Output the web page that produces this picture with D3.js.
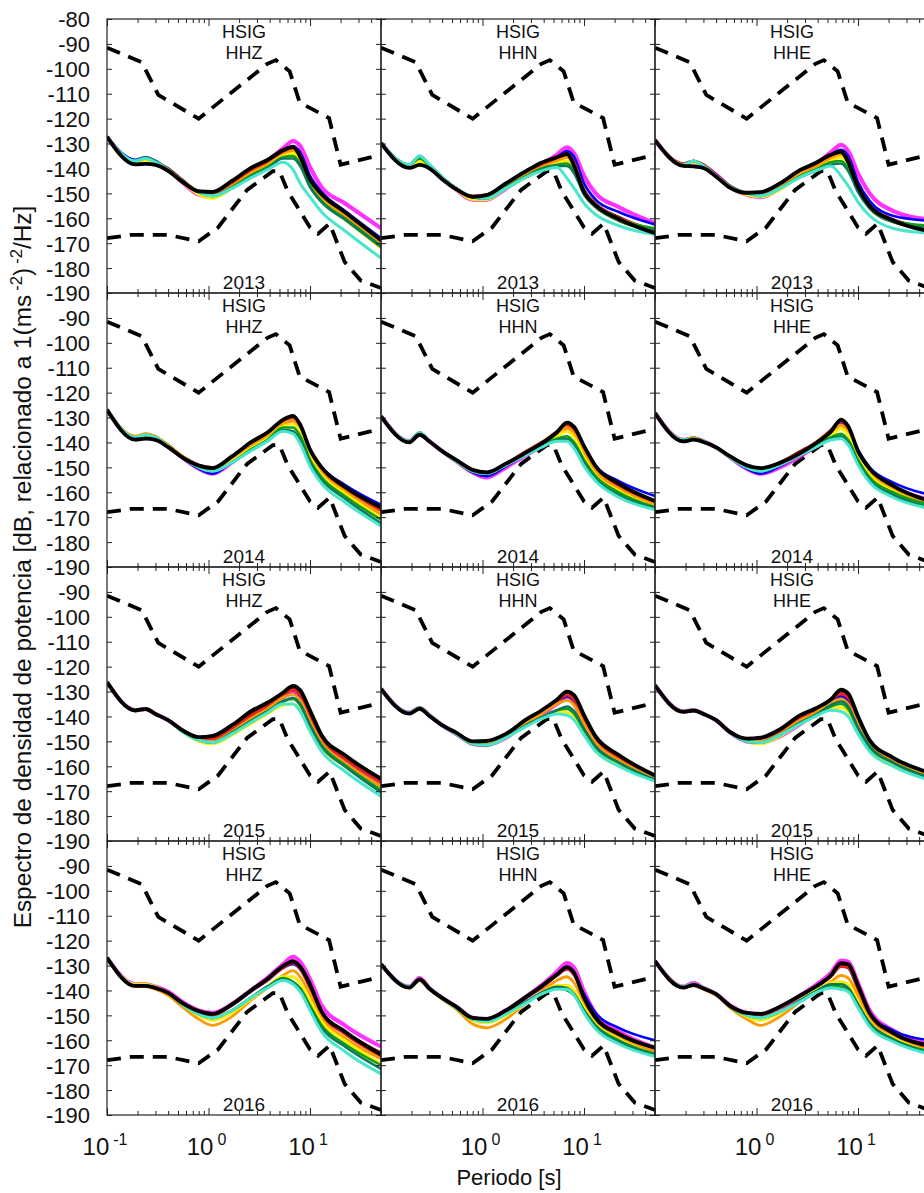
<!DOCTYPE html>
<html><head><meta charset="utf-8">
<script src="https://cdn.jsdelivr.net/npm/d3@7"></script>
<style>
body{margin:0;background:#fff}
svg{display:block}
text{font-family:"Liberation Sans",Arial,Helvetica,sans-serif;fill:#111}
</style></head>
<body><svg id="c" width="924" height="1193"></svg>
<script>
// ---------------- DATA ----------------
const station = "HSIG";
const channels = ["HHZ","HHN","HHE"];
const years = ["2013","2014","2015","2016"];
const periods = [0.1,0.19,0.24,0.3,0.4,0.55,0.8,1.1,1.7,2.7,3.8,5.4,6.8,8,10,13,22,50];
const seriesNames  = ["magenta","blue","darkred","red","orange","yellow","green","teal","turquoise","black"];
const seriesColors = ["#ff00ff","#0000ff","#9a1010","#e8201a","#ff9900","#ffee00","#10a010","#0a7a5a","#48e6cc","#000000"];
const seriesWidths = [4.2,2.6,2.6,2.6,2.8,2.8,2.6,2.6,3.0,3.8];

const nhnmPeriods = [0.1,0.22,0.32,0.8,3.8,4.6,6.3,7.9,15.4,20,50];
const nhnmValues  = [-91.5,-97.4,-110.5,-120,-98,-96.5,-101,-113.5,-119.8,-138.5,-134.5];
const nlnmPeriods = [0.1,0.17,0.4,0.8,1.24,2.4,4.3,5,6,10,12,15.6,21.9,31.6,50];
const nlnmValues  = [-168,-166.7,-166.7,-169.2,-163.7,-148.6,-141.1,-141.1,-149,-163.7,-166.2,-162.1,-177.5,-185,-188];

const yTicks = [-80,-90,-100,-110,-120,-130,-140,-150,-160,-170,-180,-190];
const xMajorTicks = [0.1,1,10];
const xMinorTicks = [0.2,0.3,0.4,0.5,0.6,0.7,0.8,0.9,2,3,4,5,6,7,8,9,20,30,40];
const xTickExponents = ["-1","0","1"];

// each panel: series in order of seriesNames
const psdHHZ2013 = [
 [-127.3,-137.5,-137,-138,-140.5,-145.5,-150.5,-151.5,-146.5,-141,-137,-132,-129,-131,-139.5,-147.5,-154,-164],
 [-127.3,-136.5,-135.5,-137,-140.5,-145,-149.5,-150.5,-146,-140.5,-137.5,-133,-131,-133.5,-143,-149.5,-157,-168],
 [-127.3,-137.5,-136.5,-137.5,-140,-144.5,-149,-149.5,-145.5,-140,-137,-133,-131.5,-134.5,-144,-150.5,-158,-169.5],
 [-127.3,-137.5,-136.5,-137.5,-140.5,-145,-149.5,-150,-146,-140.5,-137.5,-133.5,-132,-135,-145,-151,-158.5,-170],
 [-127.3,-137.5,-137,-138,-141,-145.5,-150,-151,-147,-141.5,-138.5,-134.5,-133,-135.5,-145.5,-151.5,-159,-170.5],
 [-127.3,-137.5,-137,-138,-141,-145.5,-150.5,-152,-148,-142.5,-139.5,-135,-134,-137,-147,-153,-160.5,-172],
 [-127.3,-137,-136,-137.5,-140.5,-145,-149.5,-151,-147.5,-142.5,-139.5,-135.5,-135,-138,-147,-153,-160,-171],
 [-127.3,-137,-135.5,-137,-140.5,-145,-149.5,-151,-148,-143,-140,-136,-136,-139,-147.5,-153.5,-160.5,-171.5],
 [-127.3,-137,-136,-137.5,-140.5,-145,-149.5,-151,-148,-143.5,-140.5,-137.5,-140.5,-146,-151.5,-157.5,-165,-176],
 [-127.3,-138.4,-138.2,-138.6,-141,-145.3,-149.2,-149.4,-145,-139.5,-136.6,-132.7,-131.3,-135.3,-144.5,-150.3,-157.5,-168.7]
];
const psdHHN2013 = [
 [-129.8,-139,-136.5,-139.5,-144,-148.5,-152.5,-152.5,-148,-142.5,-138.5,-134.5,-131.5,-134,-143,-150,-155.5,-162],
 [-129.8,-138.5,-135,-138.5,-143.5,-148,-151.5,-151.5,-147,-142,-138.5,-135.5,-133,-135.5,-146,-152.5,-157.5,-162.5],
 [-129.8,-138.5,-136.5,-139,-143.5,-148,-151,-150.5,-146,-141,-138,-135.5,-134,-137.5,-148.5,-154,-159.5,-165],
 [-129.8,-138.5,-136.5,-139,-144,-148,-151.5,-151,-146.5,-141.5,-138.5,-136,-134.5,-138,-149,-154.5,-160,-164.5],
 [-129.8,-139,-137,-139.5,-144,-148.5,-152,-152,-147.5,-142.5,-139.5,-137,-135.5,-138.5,-149,-154.5,-160,-164.5],
 [-129.8,-139,-137,-139.5,-144,-148.5,-152.5,-152.5,-148,-143.5,-140.5,-138,-137,-140,-150,-155.5,-161,-165.5],
 [-129.8,-138.5,-136,-139,-143.5,-148,-151.5,-152,-147.5,-143,-140,-138.5,-138,-141,-150,-155,-160.5,-164],
 [-129.8,-138.5,-135,-138.5,-143.5,-148,-151.5,-152,-148,-143.5,-140.5,-139,-139,-142,-150.5,-155.5,-161,-165],
 [-129.8,-138.5,-135,-138.5,-143.5,-148,-151.5,-152,-148,-143.5,-141,-139.5,-144,-148,-154,-158.5,-163,-166.5],
 [-129.8,-139.8,-138.6,-140,-144.3,-148.3,-151.4,-150.7,-146,-141,-137.7,-135.5,-134.2,-139,-149.5,-154.8,-160.3,-166]
];
const psdHHE2013 = [
 [-128.6,-138.5,-137.5,-139,-142.5,-147.5,-150.5,-151.5,-148,-142,-138.5,-133.5,-130.5,-133,-142,-150,-157,-160.5],
 [-128.6,-138.5,-137,-139,-142.5,-147.5,-150,-150.5,-147,-141.5,-138.5,-134.5,-132.5,-135,-145.5,-153,-159,-161],
 [-128.6,-138,-137,-138.5,-142.5,-147,-149.5,-149.5,-146,-140.5,-138,-134.5,-133,-136.5,-147,-154.5,-160.5,-164],
 [-128.6,-138,-137,-138.5,-143,-147.5,-150,-150,-146.5,-141,-138.5,-135,-133.5,-137,-147.5,-155,-160.5,-163.5],
 [-128.6,-138.5,-137.5,-139,-143,-147.5,-150.5,-151,-147.5,-142,-139.5,-136,-134.5,-137.5,-148,-155.5,-161,-164],
 [-128.6,-138.5,-137.5,-139,-143,-147.5,-150.5,-151.5,-148.5,-143,-140.5,-137,-135.5,-138.5,-148.5,-156,-161.5,-164.5],
 [-128.6,-138.5,-137,-139,-143,-147.5,-150,-151,-148,-143,-140.5,-137.5,-137,-140,-149,-155.5,-161,-163],
 [-128.6,-138.5,-137,-139,-143,-147.5,-150,-151,-148,-143.5,-141,-138.5,-138,-141,-149.5,-156,-161.5,-164],
 [-128.6,-138.5,-137,-139,-143,-147.5,-150,-151,-148,-143.5,-141,-139,-143,-147,-153.5,-159,-164,-166],
 [-128.6,-139,-139.2,-139.8,-143.3,-147.8,-149.8,-149.5,-146,-140.6,-137.8,-134.5,-133.3,-137.5,-147.5,-155,-160.8,-165.2]
];
const psdHHZ2014 = [
 [-126.9,-138.5,-137.5,-138.5,-141.5,-146,-150.5,-152.5,-148,-141.5,-138,-133,-131,-134,-144,-151.5,-159.5,-169.5],
 [-126.9,-138.5,-137.5,-138.5,-141.5,-146,-150.5,-152.5,-147.5,-141,-137.5,-132.5,-130.5,-133.5,-143,-150,-157,-165],
 [-126.9,-138,-137,-138,-141,-145.5,-149,-150,-145.5,-139.5,-136,-131,-129.5,-133,-143,-150.5,-158,-166.5],
 [-126.9,-138,-137,-138,-141,-145.5,-149,-150.5,-146,-140,-136.5,-131.5,-130,-134,-144,-151,-158.5,-167.5],
 [-126.9,-137.5,-136.5,-137.5,-141,-145.5,-149.5,-151,-146.5,-141,-137.5,-132.5,-131,-134.5,-144.5,-152,-159.5,-168.5],
 [-126.9,-138,-137,-138,-141.5,-146,-150,-151.5,-147.5,-142,-138.5,-133.5,-132.5,-136,-146,-153,-160.5,-170],
 [-126.9,-138,-137,-138,-141.5,-146,-150,-151.5,-148,-142.5,-139,-134,-134,-137.5,-147,-154,-161.5,-171],
 [-126.9,-138,-137,-138,-141.5,-146,-150,-151.5,-148,-143,-139.5,-135,-135.5,-139,-148,-155,-162.5,-172.5],
 [-126.9,-138,-137,-138,-141.5,-146,-150,-151.5,-148,-143,-139.5,-135.5,-136.5,-140.5,-149.5,-156.5,-164,-173.5],
 [-126.9,-138.9,-138.5,-139,-141.9,-146,-149.3,-150.3,-145.6,-139.6,-136,-130.9,-129.3,-132.9,-142.9,-150,-157.8,-166]
];
const psdHHN2014 = [
 [-129.5,-139.5,-136.5,-139.5,-143.5,-147.5,-152,-154,-150,-145,-141.5,-137,-134,-136,-143,-150,-157.5,-165],
 [-129.5,-139.5,-136,-139.5,-143.5,-147.5,-152,-153.5,-149.5,-144.5,-141,-136.5,-133,-135,-142,-149.5,-155.5,-161.5],
 [-129.5,-139.5,-136.5,-139.5,-143.5,-147,-151,-152,-148.5,-143.5,-140,-135.5,-132.5,-134.5,-142,-150,-157,-164],
 [-129.5,-139.5,-136.5,-139.5,-143.5,-147,-151,-152,-148.5,-143.5,-140,-136,-133,-135,-142.5,-150.5,-157.5,-164.5],
 [-129.5,-139.5,-136.5,-139.5,-143.5,-147.5,-151.5,-152.5,-149,-144,-140.5,-136.5,-134,-136.5,-144,-151.5,-158.5,-165],
 [-129.5,-139.5,-136.5,-139.5,-143.5,-147.5,-151.5,-152.5,-149,-144.5,-141,-137.5,-135.5,-138,-146,-153,-159.5,-166],
 [-129.5,-139.5,-136,-139.5,-143.5,-147.5,-151.5,-152.5,-149,-144.5,-141.5,-138.5,-137.5,-140,-147,-153.5,-160,-166],
 [-129.5,-139.5,-136,-139.5,-143.5,-147.5,-151.5,-152.5,-149,-144.5,-141.5,-139,-138.5,-141,-148,-154.5,-161,-166.5],
 [-129.5,-139.5,-136,-139.5,-143.5,-147.5,-151.5,-152.5,-149,-145,-142,-139.5,-139.5,-142.5,-149.5,-155.5,-162,-167],
 [-129.5,-140,-136.9,-139.6,-143.5,-147,-151,-152,-148.5,-144,-140.5,-136,-132,-133.8,-141.5,-149.5,-156.5,-163.5]
];
const psdHHE2014 = [
 [-128.2,-139,-138.5,-139.5,-142,-146,-150.5,-152.5,-150,-145.5,-141.5,-136.5,-132.5,-135,-144.5,-151.5,-158,-163],
 [-128.2,-139,-138.5,-139.5,-142,-146,-150.5,-152.5,-149.5,-145,-141,-136,-132,-134.5,-143,-150,-156,-161],
 [-128.2,-139,-138,-139.5,-142,-145.5,-149,-150.5,-148,-143.5,-140,-135,-131,-134,-143.5,-151,-157.5,-163.5],
 [-128.2,-139,-138,-139.5,-142,-145.5,-149.5,-150.5,-148,-144,-140.5,-135.5,-131.5,-134.5,-144,-151.5,-158,-164],
 [-128.2,-139,-138,-139.5,-142,-146,-149.5,-151,-148.5,-144.5,-141,-136.5,-133,-136,-145,-152,-158.5,-164.5],
 [-128.2,-139,-138.5,-139.5,-142,-146,-150,-151.5,-149,-145,-141.5,-137.5,-134.5,-137,-146,-153,-159.5,-165.5],
 [-128.2,-139,-138.5,-139.5,-142,-146,-150,-151.5,-149,-145,-141.5,-138,-136.5,-139,-147,-154,-160,-165],
 [-128.2,-139,-138.5,-139.5,-142,-146,-150,-151.5,-149,-145,-142,-138.5,-137.5,-140,-148,-155,-161,-166],
 [-128.2,-139,-138.5,-139.5,-142,-146,-150,-151.5,-149,-145,-142,-139,-138.5,-141,-149,-156,-162,-166.5],
 [-128.2,-139.6,-138.9,-139.8,-142,-145.6,-149.2,-150.3,-148.2,-144.3,-140.5,-135.7,-130.8,-133.5,-143.5,-150.5,-157.3,-163.5]
];
const psdHHZ2015 = [
 [-126.2,-137.5,-137,-139,-141.5,-145.5,-149,-149.5,-147,-141.5,-137,-132.5,-130,-132,-140,-149,-157,-166.5],
 [-126.2,-137.5,-137,-139,-141.5,-145.5,-149,-149.5,-146,-140.5,-136.5,-132.5,-131,-133,-142,-150.5,-158.5,-168],
 [-126.2,-137.5,-137,-139,-141.5,-145.5,-148.5,-148.5,-144,-138.5,-135,-131,-128.5,-130.5,-138.5,-148,-156,-165.5],
 [-126.2,-137.5,-137,-139,-141.5,-145.5,-149,-149,-145,-139.5,-136,-131.5,-129.5,-131.5,-140,-149,-157,-166.5],
 [-126.2,-137.5,-137,-139,-141.5,-146,-149.5,-150,-146,-140.5,-137,-132.5,-131,-133.5,-142,-150.5,-158.5,-168],
 [-126.2,-137.5,-137,-139,-141.5,-146,-150,-151,-147.5,-142.5,-139,-135.5,-135,-137.5,-145,-152.5,-160,-169.5],
 [-126.2,-137.5,-137,-139,-141.5,-146,-149.5,-150.5,-146.5,-141.5,-138,-134,-133,-135.5,-143.5,-151.5,-159.5,-169.5],
 [-126.2,-137.5,-137,-139,-141.5,-146,-149.5,-150.5,-146.5,-141.5,-138,-134,-132.5,-135,-143.5,-152,-160,-170.5],
 [-126.2,-137.5,-137,-139,-141.5,-146,-149.5,-150.5,-147,-142,-138.5,-135,-135,-138,-146,-154,-162,-172],
 [-126.2,-137.6,-137,-139,-141.5,-145.5,-148.3,-147.8,-143.5,-137.6,-134.5,-130.5,-127.7,-129.5,-137.6,-147.5,-155.5,-165]
];
const psdHHN2015 = [
 [-128.9,-138.5,-136.5,-139.5,-143.5,-147,-151,-151.5,-148.5,-143,-139.5,-135,-133,-135,-143,-150.5,-157,-164.5],
 [-128.9,-138.5,-136.5,-139.5,-143.5,-147,-150.5,-151,-148,-142.5,-139,-134.5,-132,-134,-142.5,-150,-156.5,-164],
 [-128.9,-138.5,-136.5,-139.5,-143.5,-146.5,-150,-150,-147,-141.5,-138,-133.5,-130.5,-132.5,-140.5,-148.5,-156,-164],
 [-128.9,-138.5,-136.5,-139.5,-143.5,-146.5,-150.5,-150.5,-147.5,-142,-138.5,-134,-131.5,-133.5,-141.5,-149,-156.5,-164.5],
 [-128.9,-138.5,-136.5,-139.5,-143.5,-147,-151,-151,-148,-142.5,-139,-135,-133.5,-135.5,-143,-150.5,-157.5,-165],
 [-128.9,-138.5,-136.5,-139.5,-143.5,-147,-151,-151.5,-148.5,-143.5,-140.5,-138,-138.5,-140,-146.5,-153,-159,-165.5],
 [-128.9,-138.5,-136.5,-139.5,-143.5,-147,-151,-151.5,-148.5,-143.5,-140.5,-137.5,-137,-139,-145.5,-152.5,-158.5,-165.5],
 [-128.9,-138.5,-136.5,-139.5,-143.5,-147,-151,-151.5,-148.5,-143.5,-140.5,-137.5,-136,-138,-145,-152,-158.5,-165.5],
 [-128.9,-138.5,-136.5,-139.5,-143.5,-147,-151,-151.5,-148.5,-144,-141,-139,-139.5,-141.5,-147.5,-154,-160,-166],
 [-128.9,-138.9,-136.9,-139.8,-143.5,-146.5,-150,-149.8,-147,-141.2,-137.6,-133.3,-130,-131.5,-139.5,-148,-155.5,-163.7]
];
const psdHHE2015 = [
 [-127.5,-138,-137.5,-139,-141.5,-146.5,-150,-150.5,-148,-143,-139,-135,-132,-134,-142.5,-151,-157.5,-163.5],
 [-127.5,-138,-137.5,-139,-141.5,-146.5,-149.5,-150,-147,-142,-138.5,-134,-132,-134,-142.5,-151,-157.5,-163],
 [-127.5,-138,-137.5,-139,-141.5,-146,-149,-148.5,-145.5,-140,-137,-133,-130,-131.5,-140.5,-150,-157,-163],
 [-127.5,-138,-137.5,-139,-141.5,-146.5,-149.5,-149,-146,-140.5,-137.5,-133.5,-131,-132.5,-141.5,-150.5,-157,-163.5],
 [-127.5,-138,-137.5,-139,-141.5,-146.5,-149.5,-150,-147,-141.5,-138.5,-134.5,-133,-135,-143,-151,-157.5,-164],
 [-127.5,-138,-137.5,-139,-141.5,-146.5,-150,-151,-148,-143,-140,-137,-136.5,-138,-145.5,-153,-159,-164.5],
 [-127.5,-138,-137.5,-139,-141.5,-146.5,-150,-150.5,-147.5,-142.5,-139.5,-136,-135,-137,-145,-152.5,-158.5,-164.5],
 [-127.5,-138,-137.5,-139,-141.5,-146.5,-150,-150.5,-147.5,-142.5,-139.5,-135.5,-134,-136,-144.5,-152,-158.5,-164.5],
 [-127.5,-138,-137.5,-139,-141.5,-146.5,-150,-150.5,-147.5,-143,-140,-137.5,-138,-140,-147,-154,-160,-165.5],
 [-127.5,-138.2,-137.6,-139,-141.5,-146.3,-148.9,-148.5,-145.2,-139.5,-136.8,-133.2,-129.2,-130.8,-140,-149.5,-156.5,-162.5]
];
const psdHHZ2016 = [
 [-126.9,-137.5,-137.5,-138.5,-140.5,-144.5,-148,-149,-145.5,-139.5,-135,-129.5,-126.5,-128.5,-135.5,-146,-154,-162.5],
 [-126.9,-138,-137.5,-138.5,-141,-145,-148.5,-149.5,-146,-140,-136,-131,-129.5,-131.5,-139,-149,-157,-166],
 [-126.9,-138,-138,-139,-141,-145,-148.5,-149.5,-145.5,-139.5,-135.5,-130.5,-128,-130.5,-138,-148.5,-156.5,-165],
 [-126.9,-138,-138,-139,-141,-145,-148.5,-150,-146,-140,-136,-131,-129,-131.5,-139,-149.5,-157.5,-166.5],
 [-126.9,-138.5,-138.5,-139.5,-142,-146.5,-151.5,-154,-150.5,-143.5,-139,-134,-132,-134.5,-141.5,-151,-159,-167.5],
 [-126.9,-137.5,-137.5,-138.5,-141,-145.5,-150,-152,-149,-143,-138.5,-134.5,-134.5,-137,-144,-152.5,-160,-169.5],
 [-126.9,-138,-138,-139,-141,-145.5,-149.5,-151,-148,-142.5,-138.5,-135,-136.5,-139,-146,-154,-161.5,-170],
 [-126.9,-138,-138,-139,-141,-145.5,-149.5,-151,-148,-142.5,-138.5,-135.5,-137,-139.5,-147,-155,-162.5,-171.5],
 [-126.9,-138,-138,-139,-141,-145.5,-149.5,-151,-148,-142.5,-139,-136,-137.5,-140.5,-148,-156.5,-164.5,-173.5],
 [-126.9,-138.2,-138.2,-139,-141,-145,-148.3,-149.4,-145.6,-139.6,-135.4,-130.2,-128.3,-130.5,-137.6,-148.5,-156.5,-165.7]
];
const psdHHN2016 = [
 [-129.5,-138.5,-135,-139,-143,-146.5,-151,-151.5,-148,-142.5,-138,-132.5,-129,-131,-140.5,-149.5,-156.5,-163],
 [-129.5,-138.5,-135.5,-139,-143,-146.5,-151,-151.5,-148.5,-143,-139,-134,-131.5,-133.5,-141.5,-149,-155,-160],
 [-129.5,-138.5,-135.5,-139,-143,-146.5,-151,-151.5,-148,-142.5,-138.5,-133.5,-130.5,-133,-142.5,-150.5,-157,-163],
 [-129.5,-138.5,-135.5,-139,-143,-146.5,-151,-151.5,-148.5,-143,-139,-134,-131.5,-134,-143,-151,-157.5,-163.5],
 [-129.5,-139,-136,-139.5,-143.5,-147.5,-153.5,-155,-151.5,-145,-140.5,-136,-134.5,-137,-145,-152,-158.5,-164.5],
 [-129.5,-138.5,-135.5,-139,-143,-147,-152,-153,-150,-145,-141,-138,-138,-140,-147,-153.5,-159.5,-166],
 [-129.5,-138.5,-135.5,-139,-143,-147,-151.5,-152,-149,-144.5,-141,-139,-140,-142,-148,-154,-160,-165.5],
 [-129.5,-138.5,-135.5,-139,-143,-147,-151.5,-152,-149,-144.5,-141,-138.5,-139,-141.5,-148,-154.5,-160.5,-166],
 [-129.5,-138.5,-135.5,-139,-143,-147,-151.5,-152.5,-149.5,-145,-141.5,-139.5,-139.5,-142,-149,-155.5,-161.5,-166.5],
 [-129.5,-138.9,-135.6,-139.3,-143,-146.5,-151,-151.4,-148,-142.5,-138.3,-133.6,-130.6,-133,-143,-151,-157.5,-163]
];
const psdHHE2016 = [
 [-128.2,-138.5,-137,-139,-141.5,-146,-149,-149.5,-147,-142,-138,-133,-128,-128.5,-137,-148,-156,-161.5],
 [-128.2,-138.5,-137.5,-139,-141.5,-146,-149,-149.5,-146.5,-142,-138.5,-134,-130,-131,-139.5,-149.5,-156,-160],
 [-128.2,-138.5,-137.5,-139,-141.5,-146,-149,-149.5,-146.5,-142,-138.5,-134,-129.5,-130,-138.5,-149,-157,-162.5],
 [-128.2,-138.5,-137.5,-139,-141.5,-146.5,-149.5,-150,-147,-142.5,-139,-134.5,-130.5,-131,-139.5,-150,-157.5,-163],
 [-128.2,-139,-138,-139.5,-142,-147,-151.5,-154,-150.5,-144.5,-140.5,-136.5,-134,-135,-142,-151.5,-158.5,-164],
 [-128.2,-138.5,-137.5,-139,-141.5,-146.5,-150.5,-152,-149,-144,-140,-137,-136.5,-137.5,-144.5,-152.5,-159,-164.5],
 [-128.2,-138.5,-137.5,-139,-141.5,-146.5,-150,-151,-148.5,-144,-140.5,-138,-138.5,-139.5,-146,-153.5,-159.5,-164.5],
 [-128.2,-138.5,-137.5,-139,-141.5,-146.5,-150,-151,-148.5,-144,-140.5,-137.5,-137.5,-139,-145.5,-153,-159.5,-165],
 [-128.2,-138.5,-137.5,-139,-141.5,-146.5,-150,-151,-148.5,-144.5,-141,-139,-139.5,-140.5,-147,-154.5,-160.5,-165.5],
 [-128.2,-138.9,-137.8,-139.2,-141.5,-146.3,-149,-149.4,-146.5,-142,-138.5,-134,-129,-129.5,-138,-149,-157,-162]
];

// table of panels built from the named arrays
const panelData = [
  [psdHHZ2013, psdHHN2013, psdHHE2013],
  [psdHHZ2014, psdHHN2014, psdHHE2014],
  [psdHHZ2015, psdHHN2015, psdHHE2015],
  [psdHHZ2016, psdHHN2016, psdHHE2016]
];

// ---------------- LAYOUT ----------------
const padLeft = 107, padTop = 19, pw = 274, ph = 274;
const svg = d3.select("#c");
svg.append("rect").attr("width",924).attr("height",1193).attr("fill","#fff");
const defs = svg.append("defs");
const FONT = '"Liberation Sans",Arial,Helvetica,sans-serif';

function styleAxis(g){
  g.select(".domain").remove();
  g.selectAll(".tick line").attr("stroke","#222").attr("stroke-width",1);
  g.attr("font-family",FONT);
}

for (let r = 0; r < 4; r++) {
  for (let c = 0; c < 3; c++) {
    const x0 = padLeft + c*pw, y0 = padTop + r*ph;
    const x = d3.scaleLog().domain([0.1,50]).range([x0, x0+pw]);
    const y = d3.scaleLinear().domain([-190,-80]).range([y0+ph, y0]);
    const id = `clip${r}${c}`;
    defs.append("clipPath").attr("id",id).append("rect")
      .attr("x",x0).attr("y",y0).attr("width",pw).attr("height",ph);
    const g = svg.append("g");
    const plot = g.append("g").attr("clip-path",`url(#${id})`);

    const line = d3.line().x(d=>x(d[0])).y(d=>y(d[1])).curve(d3.curveMonotoneX);
    const lineLin = d3.line().x(d=>x(d[0])).y(d=>y(d[1]));

    // noise models (dashed)
    plot.append("path").datum(d3.zip(nhnmPeriods,nhnmValues)).attr("d",lineLin)
      .attr("fill","none").attr("stroke","#000").attr("stroke-width",3.8)
      .attr("stroke-dasharray","14,9");
    plot.append("path").datum(d3.zip(nlnmPeriods,nlnmValues)).attr("d",lineLin)
      .attr("fill","none").attr("stroke","#000").attr("stroke-width",3.8)
      .attr("stroke-dasharray","14,9");

    // PSD curves
    const ds = panelData[r][c];
    ds.forEach((vals,i)=>{
      plot.append("path").datum(d3.zip(periods,vals)).attr("d",line)
        .attr("fill","none").attr("stroke",seriesColors[i])
        .attr("stroke-width",seriesWidths[i])
        .attr("stroke-opacity", i===0 ? 0.8 : 1)
        .attr("stroke-linejoin","round");
    });

    // frame
    g.append("rect").attr("x",x0).attr("y",y0).attr("width",pw).attr("height",ph)
      .attr("fill","none").attr("stroke","#222").attr("stroke-width",1.2);

    // ticks (inward)
    g.append("g").attr("transform",`translate(0,${y0+ph})`)
      .call(d3.axisBottom(x).tickValues(xMajorTicks).tickSize(-7).tickFormat("")).call(styleAxis);
    g.append("g").attr("transform",`translate(0,${y0+ph})`)
      .call(d3.axisBottom(x).tickValues(xMinorTicks).tickSize(-4).tickFormat("")).call(styleAxis);
    g.append("g").attr("transform",`translate(0,${y0})`)
      .call(d3.axisTop(x).tickValues(xMajorTicks).tickSize(-7).tickFormat("")).call(styleAxis);
    g.append("g").attr("transform",`translate(0,${y0})`)
      .call(d3.axisTop(x).tickValues(xMinorTicks).tickSize(-4).tickFormat("")).call(styleAxis);
    const rowTicks = r===0 ? yTicks : yTicks.filter(v=>v!==-80);
    const yl = g.append("g").attr("transform",`translate(${x0},0)`)
      .call(d3.axisLeft(y).tickValues(rowTicks).tickSize(-5).tickPadding(17)
        .tickFormat(c===0 ? (v=>String(v)) : ""));
    yl.call(styleAxis);
    yl.selectAll("text").attr("font-size",22).attr("fill","#111").attr("dy","0.36em");
    g.append("g").attr("transform",`translate(${x0+pw},0)`)
      .call(d3.axisRight(y).tickValues(yTicks).tickSize(-5).tickFormat("")).call(styleAxis);

    // panel texts
    const cx = x0 + pw/2;
    g.append("text").attr("x",cx).attr("y",y0+19).attr("text-anchor","middle")
      .attr("font-size",18).text(station);
    g.append("text").attr("x",cx).attr("y",y0+40).attr("text-anchor","middle")
      .attr("font-size",18).text(channels[c]);
    g.append("text").attr("x",cx).attr("y",y0+270).attr("text-anchor","middle")
      .attr("font-size",19).text(years[r]);

    // x tick labels (bottom row)
    if (r === 3) {
      xMajorTicks.forEach((v,k)=>{
        if (c>0 && k===0) return;
        const t = g.append("text").attr("x",x(v)-2).attr("y",1155)
          .attr("text-anchor","middle").attr("font-size",24);
        t.append("tspan").text("10");
        t.append("tspan").attr("dx",4).attr("dy",-10).attr("font-size",16).text(xTickExponents[k]);
      });
    }
  }
}

// axis titles
svg.append("text").attr("x",509).attr("y",1185).attr("text-anchor","middle")
  .attr("font-size",22).text("Periodo [s]");

const yt = svg.append("text").attr("transform","translate(31,567) rotate(-90)")
  .attr("text-anchor","middle").attr("font-size",22);
yt.append("tspan").text("Espectro de densidad de potencia [dB, relacionado a  1(ms");
yt.append("tspan").attr("dx",4).attr("dy",-9).attr("font-size",15).text("-2");
yt.append("tspan").attr("dy",9).text(")");
yt.append("tspan").attr("dx",4).attr("dy",-9).attr("font-size",15).text("-2");
yt.append("tspan").attr("dy",9).text("/Hz]");
// fit the title to the span it covers in the figure
const len = yt.node().getComputedTextLength();
if (len > 0) {
  const k = 715/len;
  yt.attr("font-size",22*k);
  yt.selectAll("tspan").filter(function(){return this.getAttribute("font-size")==="15";})
    .attr("font-size",15*k);
}
</script>
</body></html>
